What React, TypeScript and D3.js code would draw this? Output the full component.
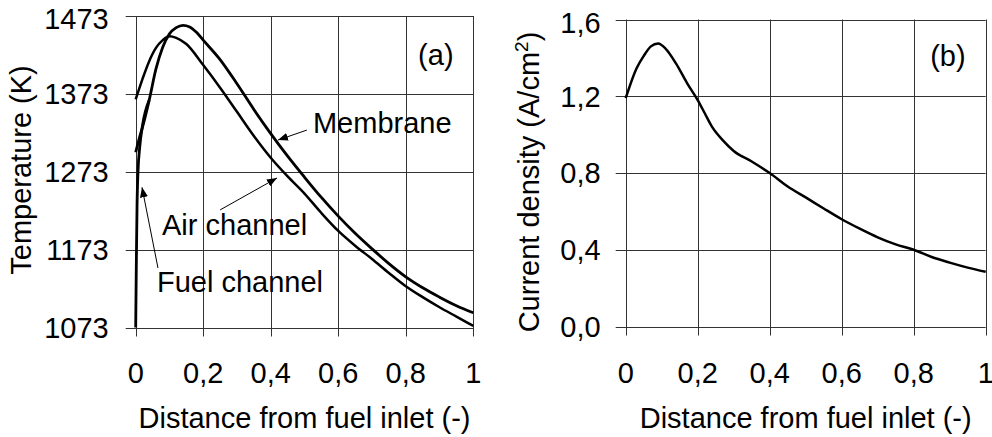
import React, { useEffect, useRef } from 'react';
import * as d3 from 'd3';

// ticks
const xTicks = [0, 0.2, 0.4, 0.6, 0.8, 1];
const tempTicks = [1073, 1173, 1273, 1373, 1473];
const currTicks = [0, 0.4, 0.8, 1.2, 1.6];

// (a) temperatures
const membraneX = [0, 0.01, 0.02, 0.04, 0.06, 0.08, 0.1, 0.12, 0.14, 0.16, 0.18, 0.2, 0.25, 0.3, 0.35, 0.4, 0.45, 0.5, 0.55, 0.6, 0.65, 0.7, 0.75, 0.8, 0.85, 0.9, 0.95, 1];
const membraneT = [1298, 1315, 1330, 1365, 1405, 1433, 1450, 1458, 1461, 1459, 1452, 1442, 1417, 1386, 1353, 1322, 1293, 1266, 1240, 1216, 1194, 1174, 1155, 1138, 1124, 1112, 1101, 1092];
const airX = [0, 0.02, 0.04, 0.06, 0.08, 0.1, 0.12, 0.15, 0.2, 0.25, 0.3, 0.35, 0.4, 0.45, 0.5, 0.55, 0.6, 0.65, 0.7, 0.75, 0.8, 0.85, 0.9, 0.95, 1];
const airT = [1366, 1392, 1415, 1432, 1442, 1447, 1445, 1437, 1410, 1381, 1350, 1319, 1291, 1267, 1245, 1220, 1197, 1178, 1161, 1143, 1126, 1112, 1099, 1087, 1075];
const fuelX = [0, 0.002, 0.004, 0.007, 0.012, 0.02, 0.04];
const fuelT = [1073, 1160, 1230, 1275, 1305, 1332, 1365];

// (b) current density
const currentX = [0, 0.03, 0.05, 0.07, 0.09, 0.11, 0.14, 0.17, 0.2, 0.22, 0.24, 0.27, 0.3, 0.35, 0.4, 0.45, 0.5, 0.55, 0.6, 0.65, 0.7, 0.75, 0.8, 0.85, 0.9, 0.95, 1];
const currentJ = [1.19, 1.345, 1.41, 1.46, 1.475, 1.45, 1.37, 1.27, 1.18, 1.11, 1.04, 0.97, 0.915, 0.86, 0.8, 0.73, 0.673, 0.615, 0.559, 0.51, 0.465, 0.428, 0.4, 0.362, 0.333, 0.307, 0.285];

// labels with arrows, in data units of panel (a)
const labelsA = [
  { text: 'Membrane', x: 0.525, y: 1322.7, tx: 0.507, ty: 1326.5, hx: 0.4215, hy: 1313.7 },
  { text: 'Air channel', x: 0.078, y: 1191.7, tx: 0.25, ty: 1224, hx: 0.4185, hy: 1265 },
  { text: 'Fuel channel', x: 0.063, y: 1118.6, tx: 0.066, ty: 1149.4, hx: 0.0187, hy: 1253 },
];

const FONT = '"Liberation Sans", Arial, Helvetica, sans-serif';
const FS = 29;

function fmtX(d: number) {
  if (d === 0) return '0';
  if (d === 1) return '1';
  return d.toFixed(1).replace('.', ',');
}

function drawPanel(svg: any, o: any) {
  const x = d3.scaleLinear().domain([0, 1]).range([o.left, o.right]);
  const y = d3.scaleLinear().domain(o.yDomain).range([o.bottom, o.top]);
  const g = svg.append('g');

  // grid + ticks
  g.selectAll('.hgrid').data(o.yTicks).enter().append('line')
    .attr('x1', o.left - 10).attr('x2', o.right)
    .attr('y1', (d: number) => Math.round(y(d)) + 0.5).attr('y2', (d: number) => Math.round(y(d)) + 0.5)
    .attr('stroke', '#333').attr('stroke-width', 1);
  g.selectAll('.vgrid').data(xTicks).enter().append('line')
    .attr('x1', (d: number) => Math.round(x(d)) + 0.5).attr('x2', (d: number) => Math.round(x(d)) + 0.5)
    .attr('y1', o.top).attr('y2', o.bottom + 9)
    .attr('stroke', '#333').attr('stroke-width', 1);

  // tick labels
  g.selectAll('.ylab').data(o.yTicks).enter().append('text')
    .attr('x', o.left - o.labelGap).attr('y', (d: number, i: number) => y(d) + (i === o.yTicks.length - 1 ? 3 : 0)).attr('dy', '0.36em')
    .attr('text-anchor', 'end').style('font-family', FONT).style('font-size', FS + 'px')
    .text(o.yFmt);
  g.selectAll('.xlab').data(xTicks).enter().append('text')
    .attr('x', (d: number) => x(d)).attr('y', 383)
    .attr('text-anchor', 'middle').style('font-family', FONT).style('font-size', FS + 'px')
    .text(fmtX);

  // axis titles
  g.append('text').attr('x', (o.left + o.right) / 2).attr('y', 428)
    .attr('text-anchor', 'middle').style('font-family', FONT).style('font-size', FS + 'px')
    .text('Distance from fuel inlet (-)');
  const yt = g.append('text')
    .attr('transform', `translate(${o.titleX},${o.titleY}) rotate(-90)`)
    .attr('text-anchor', 'middle').style('font-family', FONT).style('font-size', FS + 'px');
  o.yTitle(yt);

  // panel tag
  g.append('text').attr('x', x(o.tag.x)).attr('y', y(o.tag.y))
    .attr('text-anchor', 'middle').style('font-family', FONT).style('font-size', FS + 'px')
    .text(o.tag.text);

  const line = d3.line<number[]>().x(d => x(d[0])).y(d => y(d[1])).curve(d3.curveMonotoneX);
  o.series.forEach((s: any) => {
    const pts = s.xs.map((v: number, i: number) => [v, s.ys[i]]);
    g.append('path').datum(pts).attr('d', line)
      .attr('fill', 'none').attr('stroke', '#000').attr('stroke-width', s.w)
      .attr('stroke-linejoin', 'round');
  });

  (o.labels || []).forEach((l: any) => {
    g.append('text').attr('x', x(l.x)).attr('y', y(l.y))
      .style('font-family', FONT).style('font-size', FS + 'px').text(l.text);
    g.append('line').attr('x1', x(l.tx)).attr('y1', y(l.ty)).attr('x2', x(l.hx)).attr('y2', y(l.hy))
      .attr('stroke', '#000').attr('stroke-width', 1).attr('marker-end', 'url(#arrow)');
  });
}

export default function App() {
  const ref = useRef<SVGSVGElement | null>(null);

  useEffect(() => {
    const svg = d3.select(ref.current);
    svg.selectAll('*').remove();
    svg.append('defs').append('marker')
      .attr('id', 'arrow').attr('markerUnits', 'userSpaceOnUse')
      .attr('markerWidth', 10).attr('markerHeight', 8)
      .attr('refX', 10).attr('refY', 4).attr('orient', 'auto')
      .append('path').attr('d', 'M0,0 L10,4 L0,8 z').attr('fill', '#000');

    drawPanel(svg, {
      left: 135.7, right: 473.3, top: 16, bottom: 327.5,
      yDomain: [1073, 1473], yTicks: tempTicks, yFmt: (d: number) => String(d),
      labelGap: 27, titleX: 31, titleY: 170,
      yTitle: (t: any) => t.text('Temperature (K)'),
      tag: { text: '(a)', x: 0.889, y: 1410 },
      series: [
        { xs: airX, ys: airT, w: 2.5 },
        { xs: membraneX, ys: membraneT, w: 2.8 },
        { xs: fuelX, ys: fuelT, w: 2.8 },
      ],
      labels: labelsA,
    });

    drawPanel(svg, {
      left: 625.7, right: 985.7, top: 19.5, bottom: 326.5,
      yDomain: [0, 1.6], yTicks: currTicks, yFmt: (d: number) => d.toFixed(1).replace('.', ','),
      labelGap: 25, titleX: 539, titleY: 182,
      yTitle: (t: any) => {
        t.append('tspan').text('Current density (A/cm');
        t.append('tspan').attr('dy', -11).style('font-size', '19px').text('2');
        t.append('tspan').attr('dy', 11).text(')');
      },
      tag: { text: '(b)', x: 0.895, y: 1.357 },
      series: [{ xs: currentX, ys: currentJ, w: 2.5 }],
    });
  }, []);

  return (
    <svg ref={ref} width={992} height={437}
      style={{ position: 'absolute', left: 0, top: 0, background: '#fff' }} />
  );
}
